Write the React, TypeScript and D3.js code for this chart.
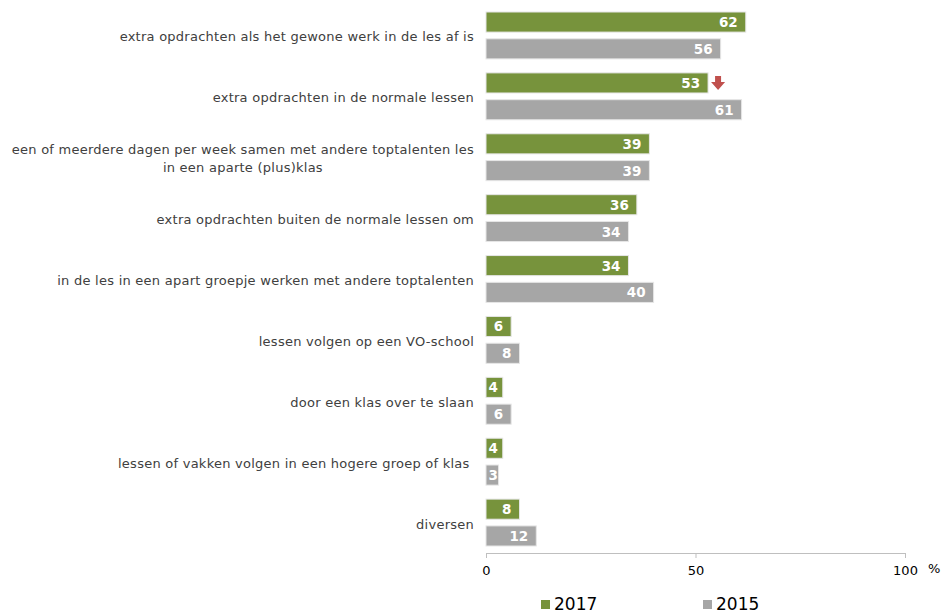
import React, { useEffect, useRef } from 'react';
import * as d3 from 'd3';

const categories: string[][] = [
  ['extra opdrachten als het gewone werk in de les af is'],
  ['extra opdrachten in de normale lessen'],
  ['een of meerdere dagen per week samen met andere toptalenten les', 'in een aparte (plus)klas'],
  ['extra opdrachten buiten de normale lessen om'],
  ['in de les in een apart groepje werken met andere toptalenten'],
  ['lessen volgen op een VO-school'],
  ['door een klas over te slaan'],
  ['lessen of vakken volgen in een hogere groep of klas\u00a0'],
  ['diversen'],
];
const values2017 = [62, 53, 39, 36, 34, 6, 4, 4, 8];
const values2015 = [56, 61, 39, 34, 40, 8, 6, 3, 12];
const seriesNames = ['2017', '2015'];
const decreaseIndex = [1];
const xTicks = [0, 50, 100];

const GREEN = '#77933c';
const GREY = '#a6a6a6';
const TEXT = '#404040';
const FONT = 'Verdana, "DejaVu Sans", sans-serif';

export default function App() {
  const ref = useRef<SVGSVGElement>(null);

  useEffect(() => {
    if (!ref.current) return;
    const svg = d3.select(ref.current);
    svg.selectAll('*').remove();

    const left = 486, right = 905, top = 5, bottom = 553;
    const x = d3.scaleLinear().domain([0, 100]).range([left, right]);
    const y = d3.scaleBand<number>().domain(d3.range(categories.length)).range([top, bottom]);
    const inner = d3.scaleBand<number>().domain([0, 1]).range([7, y.bandwidth() - 7]).paddingInner(0.25);

    const series = [values2017, values2015];
    const colors = [GREEN, GREY];

    categories.forEach((lines, i) => {
      const cy = (y(i) as number) + y.bandwidth() / 2;
      const t = svg.append('text')
        .attr('x', 474)
        .attr('text-anchor', 'end')
        .attr('font-family', FONT)
        .attr('font-size', 13)
        .attr('letter-spacing', 0.25)
        .attr('fill', TEXT);
      lines.forEach((ln, k) => {
        t.append('tspan')
          .attr('x', 474)
          .attr('y', cy + 6 + (k - (lines.length - 1) / 2) * 18)
          .text(ln);
      });
      if (lines.length > 1) {
        // center the wrapped lines on each other
        const w = (t.node() as SVGTextElement).getBBox();
        t.attr('text-anchor', 'middle');
        t.selectAll('tspan').attr('x', w.x + w.width / 2);
      }

      series.forEach((vals, s) => {
        const by = (y(i) as number) + (inner(s) as number);
        const bh = inner.bandwidth();
        svg.append('rect')
          .attr('x', x(0))
          .attr('y', by)
          .attr('width', x(vals[i]) - x(0))
          .attr('height', bh)
          .attr('fill', colors[s])
          .attr('stroke', '#e6e6e6')
          .attr('stroke-width', 1);
        const label = String(vals[i]);
        const tw = label.length * 8;
        const lx = Math.max(x(vals[i]) - 8, x(0) + tw + 4);
        svg.append('text')
          .attr('x', lx)
          .attr('y', by + bh / 2 + 5)
          .attr('text-anchor', 'end')
          .attr('font-family', FONT)
          .attr('font-size', 13.5)
          .attr('font-weight', 'bold')
          .attr('fill', '#ffffff')
          .text(label);
      });
    });

    // decrease arrows
    decreaseIndex.forEach(i => {
      const by = (y(i) as number) + (inner(0) as number);
      const cx = x(values2017[i]) + 10;
      const cy = by + inner.bandwidth() / 2;
      svg.append('path')
        .attr('d', `M${cx - 3},${cy - 7}h6v6h4l-7,8l-7,-8h4z`)
        .attr('fill', '#c0504d');
    });

    // axis
    const axis = svg.append('g')
      .attr('transform', `translate(0,${bottom})`)
      .call(d3.axisBottom(x).tickValues(xTicks).tickSize(5).tickSizeOuter(0));
    axis.select('.domain').attr('stroke', '#bfbfbf');
    axis.selectAll('.tick line').attr('stroke', '#bfbfbf');
    axis.selectAll('.tick text')
      .attr('font-family', FONT)
      .attr('font-size', 13)
      .attr('fill', '#000')
      .attr('dy', '1.1em');
    svg.append('text')
      .attr('x', 928).attr('y', 573)
      .attr('font-family', FONT).attr('font-size', 13).attr('fill', '#000')
      .text('%');

    // legend
    const legendX = [541, 703];
    seriesNames.forEach((name, s) => {
      svg.append('rect')
        .attr('x', legendX[s]).attr('y', 600).attr('width', 9).attr('height', 9)
        .attr('fill', colors[s]);
      svg.append('text')
        .attr('x', legendX[s] + 13).attr('y', 610)
        .attr('font-family', FONT).attr('font-size', 17).attr('fill', '#000')
        .text(name);
    });
  }, []);

  return (
    <div style={{ position: 'absolute', left: 0, top: 0 }}>
      <svg ref={ref} width={941} height={614} style={{ display: 'block' }} />
    </div>
  );
}
